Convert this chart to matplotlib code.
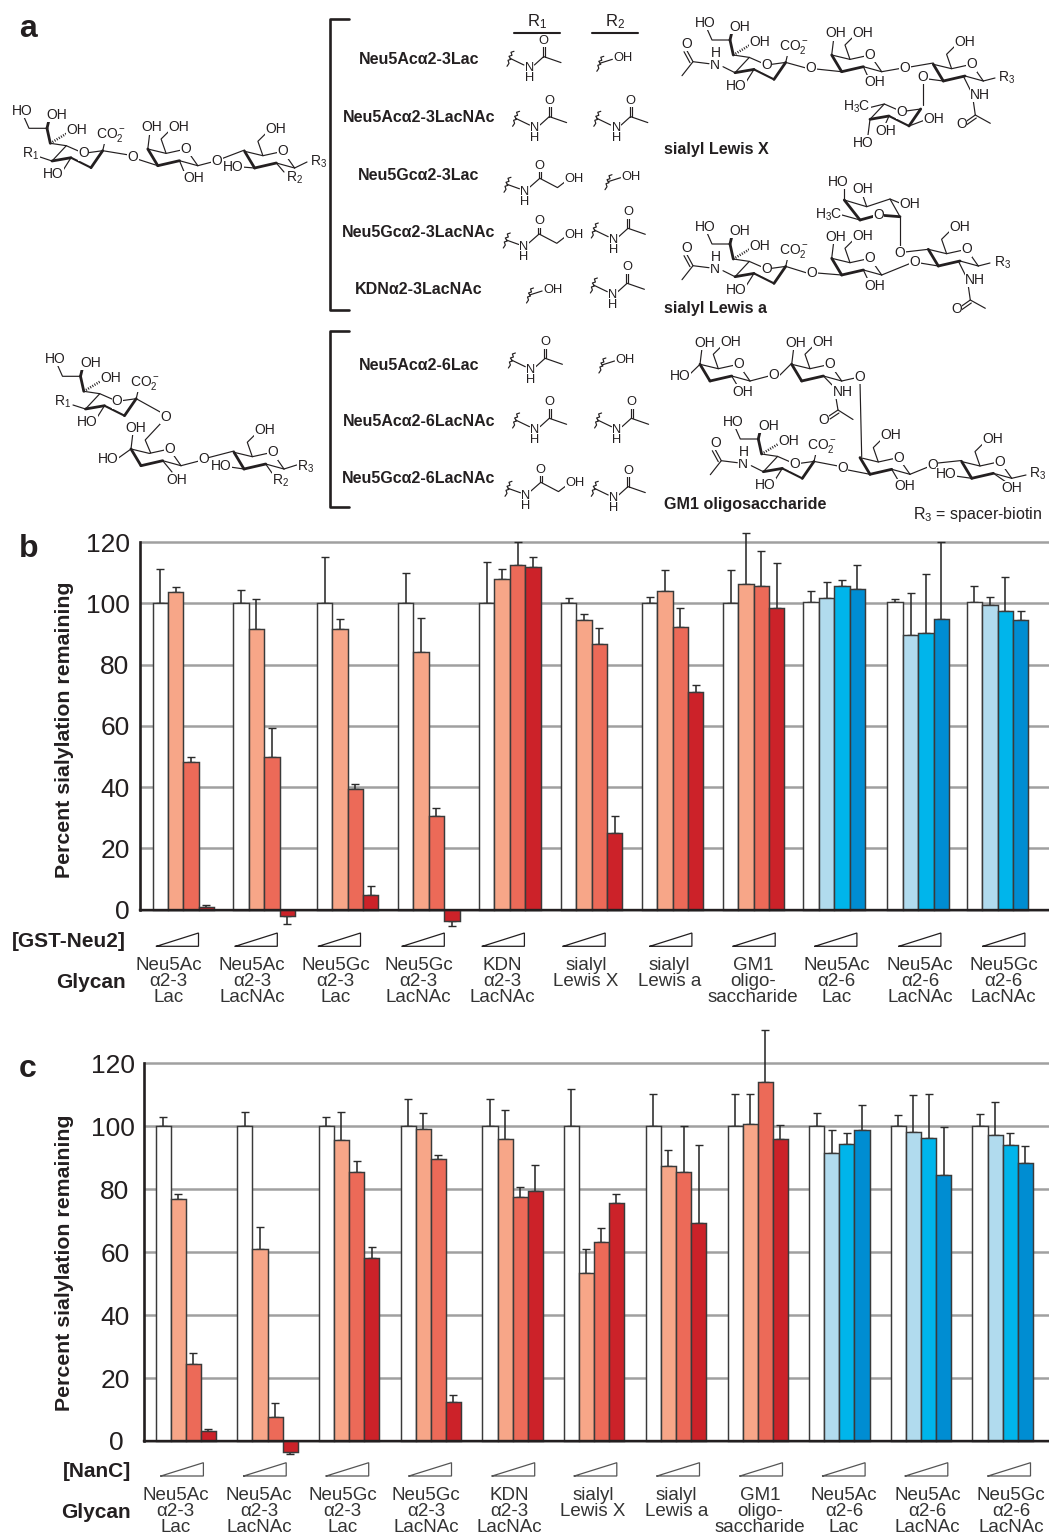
import matplotlib
matplotlib.use('Agg')
import matplotlib.pyplot as plt
from matplotlib.transforms import Affine2D

plt.rcParams['font.family'] = ['Liberation Sans', 'DejaVu Sans']
plt.rcParams['mathtext.fontset'] = 'custom'
plt.rcParams['mathtext.rm'] = 'Liberation Sans'
plt.rcParams['mathtext.it'] = 'Liberation Sans'
plt.rcParams['mathtext.bf'] = 'Liberation Sans:bold'
plt.rcParams['mathtext.default'] = 'regular'

# glycan labels, one line per row under the bars
glycans = [['Neu5Ac', 'α2-3', 'Lac'], ['Neu5Ac', 'α2-3', 'LacNAc'],
           ['Neu5Gc', 'α2-3', 'Lac'], ['Neu5Gc', 'α2-3', 'LacNAc'],
           ['KDN', 'α2-3', 'LacNAc'], ['sialyl', 'Lewis X'], ['sialyl', 'Lewis a'],
           ['GM1', 'oligo-', 'saccharide'], ['Neu5Ac', 'α2-6', 'Lac'],
           ['Neu5Ac', 'α2-6', 'LacNAc'], ['Neu5Gc', 'α2-6', 'LacNAc']]
yticks = [0, 20, 40, 60, 80, 100, 120]

# panel b, bar heights for the four enzyme doses
b_dose0 = [100, 100, 100, 100, 100, 100, 100, 100, 100.3, 100.3, 100.3]
b_dose1 = [103.7, 91.5, 91.5, 84.2, 107.8, 94.7, 103.9, 106.2, 101.8, 89.6, 99.3]
b_dose2 = [48.1, 49.9, 39.3, 30.5, 112.5, 86.8, 92.4, 105.8, 105.8, 90.2, 97.5]
b_dose3 = [0.8, -2.1, 4.9, -3.8, 111.7, 24.9, 71.2, 98.5, 104.8, 95.0, 94.5]
# panel b, where each whisker ends
b_end0 = [111.3, 104.4, 115.2, 109.8, 113.5, 101.7, 102.0, 111.0, 104.0, 101.3, 105.6]
b_end1 = [105.2, 101.4, 95.0, 95.1, 111.3, 96.6, 111.0, 123.0, 106.9, 103.3, 102.0]
b_end2 = [49.8, 59.3, 41.0, 33.1, 120.0, 91.9, 98.3, 117.2, 107.7, 109.7, 108.5]
b_end3 = [1.6, -4.6, 7.8, -5.4, 115.0, 30.7, 73.4, 113.0, 112.6, 120.0, 97.6]

# panel c
c_dose0 = [100, 100, 100, 100, 100, 100, 100, 100, 100, 100, 100]
c_dose1 = [76.8, 61.1, 95.6, 99.0, 96.0, 53.3, 87.5, 100.7, 91.5, 98.3, 97.2]
c_dose2 = [24.4, 7.7, 85.6, 89.6, 77.5, 63.3, 85.6, 114.2, 94.3, 96.2, 93.9]
c_dose3 = [3.3, -3.4, 58.0, 12.3, 79.3, 75.7, 69.2, 95.9, 98.7, 84.6, 88.2]
c_end0 = [103.0, 104.4, 102.9, 108.6, 108.8, 111.7, 110.3, 110.2, 104.3, 103.7, 103.9]
c_end1 = [78.6, 68.1, 104.4, 104.1, 105.1, 61.0, 92.3, 110.2, 98.7, 109.8, 107.8]
c_end2 = [27.8, 12.0, 89.0, 90.8, 80.6, 67.8, 100.2, 130.5, 97.8, 110.2, 98.0]
c_end3 = [3.9, -4.0, 61.7, 14.7, 87.7, 78.5, 93.9, 100.5, 106.8, 99.8, 93.6]

# layout in reference pixels
W, H = 1049, 1534
b_left = [152.5, 233.3, 316.8, 397.9, 479, 560.8, 641.8, 722.8, 803.4, 887.4, 966.7]
c_left = [155.5, 237.3, 318.8, 400.6, 482.4, 563.5, 645.8, 727.5, 809.1, 890.8, 972.4]
b_labx = [168.4, 251.9, 335.4, 418.5, 502, 585.8, 669.5, 752.8, 836.5, 920.1, 1003.8]
c_labx = [175.8, 259.3, 342.5, 426, 509.5, 592.9, 676.2, 759.9, 843.9, 927.6, 1010.9]
b_tri = [156.5, 235.3, 318.5, 402.3, 482.4, 563.2, 649.9, 733.2, 814.9, 898.9, 982.9]
c_tri = [160.9, 243.7, 326.2, 409, 492.2, 574.3, 657, 740, 822.6, 905.3, 988]

white = '#ffffff'
reds = ['#f7a688', '#ec6a58', '#cc2229']
blues = ['#b1dbee', '#00b5eb', '#008dd2']
ink = '#231f20'
grid = '#a0a0a0'

f = plt.figure(figsize=(W / 100, H / 100), dpi=100)

# overlay in pixel units for the chemistry and the labels
ov = f.add_axes([0, 0, 1, 1], zorder=5)
ov.set_xlim(0, W)
ov.set_ylim(H, 0)
ov.axis('off')
ov.patch.set_alpha(0)


def chain(*pts, lw=0.85, **kw):
    ov.plot([p[0] for p in pts], [p[1] for p in pts], color=ink, lw=lw,
            solid_capstyle='round', solid_joinstyle='round', zorder=2, **kw)


def atom(x, y, s, size=10):
    ov.text(x, y, s, ha='center', va='center', fontsize=size, color=ink, zorder=3,
            bbox=dict(fc='white', ec='none', pad=0.2))


def rel(x, y, pts):
    return [(x + p[0], y + p[1]) for p in pts]


def neu_ring(x, y):
    bl, tl, o, tr, br, bm = rel(x, y, [(0, 0), (14.3, -15.3), (31.7, -7.7), (50.7, -10.3), (39, 6.7), (19, -3.3)])
    chain(bl, tl, o, tr)
    chain(bl, bm, lw=2)
    chain(bm, br, lw=1.5)
    chain(br, tr, lw=2)
    atom(o[0], o[1], 'O')
    return bl, tl, tr, br, bm


def gal_ring(x, y):
    tl, bl, bm, r, o, m = rel(x, y, [(-10, -16.7), (0, 0), (21.7, -5), (40, 0), (28.3, -16.7), (8.3, -12.3)])
    chain(tl, m, o, r)
    chain(tl, bl, lw=2)
    chain(bl, bm, lw=2)
    chain(bm, r)
    atom(o[0], o[1], 'O')
    return tl, bl, bm, r, m


def sialic(x, y, nh=True):
    bl, tl, tr, br, bm = neu_ring(x, y)
    root = (x - 1.7, y - 17.7)
    top = (x - 5, y - 32.7)
    chain(root, tl)
    chain(root, top, lw=2)
    chain(top, (x - 23, y - 32.7), (x - 28, y - 44))
    chain(top, (x - 3, y - 41), lw=2)
    chain(root, (x + 15, y - 27.7), lw=1.8, linestyle=(0, (0.4, 0.6)))
    atom(x - 30, y - 50, 'HO')
    atom(x + 5, y - 46, 'OH')
    atom(x + 25, y - 31, 'OH')
    chain(tr, (x + 53, y - 20))
    atom(x + 59, y - 26, 'CO$_2^-$')
    chain(bm, (x + 10, y + 11))
    atom(x + 1.7, y + 13.3, 'HO')
    if nh:
        chain(bl, (x - 12, y - 6))
        atom(x - 20, y - 7.5, 'N')
        atom(x - 19, y - 20, 'H')
        chain((x - 26, y - 9), (x - 42, y - 11), (x - 53, y + 3))
        chain((x - 42, y - 11), (x - 48, y - 22))
        chain((x - 45, y - 10), (x - 51, y - 21))
        atom(x - 48, y - 29, 'O')
    return tr


def gal(x, y, top_oh=True):
    tl, bl, bm, r, m = gal_ring(x, y)
    if top_oh:
        chain(tl, (x - 8, y - 33))
        atom(x - 5.7, y - 38.3, 'OH')
    chain(m, (x + 3.3, y - 26.7), (x + 11.7, y - 35))
    atom(x + 21, y - 39, 'OH')
    return tl, bl, bm, r


def nhac(x, y):
    chain((x + 20, y - 5), (x + 27, y + 9))
    atom(x + 37, y + 14, 'NH')
    chain((x + 30, y + 20), (x + 32, y + 34), (x + 47, y + 42.3))
    chain((x + 32, y + 34), (x + 22, y + 41))
    chain((x + 33, y + 37), (x + 23, y + 44))
    atom(x + 18, y + 43, 'O')


def squiggle(x, y):
    chain((x + 4, y - 7), (x + 1, y - 6), (x + 2, y - 3), (x - 1, y - 2), (x + 1, y + 1),
          (x - 2, y + 2), (x - 1, y + 5), (x - 3, y + 8), lw=0.85)


def acetamide(x, y):
    squiggle(x, y)
    chain((x, y), (x + 13.9, y + 6.7))
    atom(x + 19.4, y + 10, 'N', 9.3)
    atom(x + 19.4, y + 20, 'H', 9.3)
    chain((x + 24.4, y + 6.7), (x + 33.7, y - 1.7), (x + 51, y + 4.3))
    chain((x + 33, y - 1.7), (x + 33, y - 12))
    chain((x + 35, y - 1.7), (x + 35, y - 12))
    atom(x + 33.7, y - 17.7, 'O', 9.3)


def glycolyl(x, y):
    squiggle(x, y)
    chain((x, y), (x + 12.5, y + 4.5))
    atom(x + 17.7, y + 7.3, 'N', 9.3)
    atom(x + 17.7, y + 17.3, 'H', 9.3)
    chain((x + 22, y + 3.5), (x + 32.8, y - 6), (x + 50.5, y + 3.3), (x + 60, y - 4))
    chain((x + 32, y - 6), (x + 32, y - 14))
    chain((x + 34, y - 6), (x + 34, y - 14))
    atom(x + 32.8, y - 18.7, 'O', 9.3)
    atom(x + 67.3, y - 5.3, 'OH', 9.3)


def hydroxyl(x, y):
    squiggle(x, y)
    chain((x, y), (x + 12.6, y - 4))
    atom(x + 23, y - 5, 'OH', 9.3)


# panel a, left templates
tr = sialic(52, 161, nh=False)
chain((52, 161), (40, 157))
atom(31, 154, 'R$_1$')
chain(tr, (129, 155))
atom(133, 157, 'O')
chain((137, 159), (157.8, 165.7))
tl, bl, bm, r = gal(157.8, 165.7)
chain(bm, (185, 174))
atom(194, 178, 'OH')
chain(r, (212, 162))
atom(217, 160.7, 'O')
chain((221, 159), (244.6, 150))
tl, bl, bm, r = gal(254.6, 168, top_oh=False)
chain(bl, (242, 167))
atom(233.6, 166.7, 'HO')
chain(bm, (284, 172))
atom(294.6, 177.7, 'R$_2$')
chain(r, (307, 162))
atom(318.6, 161.7, 'R$_3$')

tr = sialic(85.5, 409, nh=False)
chain((85.5, 409), (73, 405))
atom(63, 401.7, 'R$_1$')
chain(tr, (162, 413))
atom(165.4, 416.7, 'O')
chain((162, 422), (145.2, 440), (150.7, 453))
tl, bl, bm, r, m = gal_ring(141, 465.7)
chain(tl, (133, 432))
atom(135.5, 427.7, 'OH')
chain(tl, (117, 459))
atom(108.6, 459.3, 'HO')
chain(bm, (172, 472))
atom(176.8, 480, 'OH')
chain(r, (199, 461))
atom(203.3, 459.3, 'O')
chain((207, 458), (234, 451))
tl, bl, bm, r = gal(244, 469, top_oh=False)
chain(bl, (230, 467))
atom(221, 465.7, 'HO')
chain(bm, (272, 473))
atom(281, 480.7, 'R$_2$')
chain(r, (296.7, 465))
atom(306, 466.7, 'R$_3$')

# panel a, sialyl Lewis X
tr = sialic(735, 72.7)
chain(tr, (806, 68))
atom(811, 68.4, 'O')
chain((816, 69), (841.7, 71.7))
tl, bl, bm, r = gal(841.7, 71.7)
chain(bm, (869, 79))
atom(875, 82, 'OH')
chain(r, (900, 68.5))
atom(905, 68.3, 'O')
chain((910, 67), (933.3, 63))
tl, bl, bm, r = gal(943.3, 81, top_oh=False)
nhac(943.3, 81)
chain(r, (995, 78))
atom(1007, 78, 'R$_3$')
chain(bl, (928, 79))
atom(923, 77, 'O')
chain((923, 83), (923, 104.5))
bl, tl2, tr2, br, bm2 = neu_ring(870, 119.3)
chain(tl2, (868, 108))
atom(856.7, 106.7, 'H$_3$C')
chain(br, (925, 120))
atom(933.3, 119.3, 'OH')
chain(bm2, (885, 125))
atom(886, 130.7, 'OH')
chain(bl, (868, 135))
atom(863.3, 142.7, 'HO')

# panel a, sialyl Lewis a
tr = sialic(735, 276.7)
chain(tr, (807, 273))
atom(812, 272.7, 'O')
chain((817, 273), (841.7, 275))
tl, bl, bm, r = gal(841.7, 275)
chain(bm, (869, 282))
atom(875, 285.5, 'OH')
chain(r, (910, 263.5))
atom(915, 262.3, 'O')
chain((920, 263), (938.3, 266))
tl, bl, bm, r = gal(938.3, 266, top_oh=False)
nhac(938.3, 266)
chain(r, (990, 263))
atom(1003, 263, 'R$_3$')
chain(tl, (905, 252))
atom(900, 253.3, 'O')
chain((900, 247.5), (900, 216.7))
fa, fb, fc, fd, fo, fe = (844.3, 200), (866.7, 206.7), (890, 199), (900, 216.7), (878.3, 215), (860, 220)
chain(fa, fb, fc, fd)
chain(fd, fo, lw=2)
chain(fo, fe, lw=2)
chain(fe, fa, lw=2)
atom(878.3, 215, 'O')
chain(fa, (844.3, 188))
atom(838.3, 181.7, 'HO')
chain(fb, (863, 196))
atom(862.3, 189.3, 'OH')
chain(fc, (901, 203.5))
atom(910, 204.3, 'OH')
chain(fe, (842, 215))
atom(828.3, 215, 'H$_3$C')

# panel a, GM1
tl, bl, bm, r = gal(710, 381)
chain(tl, (688, 376))
atom(680, 376, 'HO')
chain(bm, (737, 385))
atom(742.7, 391.7, 'OH')
chain(r, (769, 376))
atom(774, 375, 'O')
chain((779, 376), (791.7, 363.3))
tl, bl, bm, r = gal(801.7, 381)
chain(r, (855, 378))
atom(860, 376.7, 'O')
chain(bm, (835, 388))
atom(842.7, 391.7, 'NH')
chain((836, 398), (838, 410), (853, 419.5))
chain((838, 410), (829, 416))
chain((839, 413), (830, 419))
atom(823.3, 420, 'O')
chain((860, 382), (861.7, 456.7))
tr = sialic(763.3, 471.7)
chain(tr, (838, 466))
atom(842.7, 468.3, 'O')
chain((848, 470), (870, 474.3))
tl, bl, bm, r = gal(870, 474.3, top_oh=False)
chain(bm, (898, 480))
atom(904.3, 486, 'OH')
chain(r, (928, 467))
atom(932.7, 465, 'O')
chain((938, 463), (961.7, 460.5))
tl, bl, bm, r = gal(971.7, 478.3, top_oh=False)
chain(bl, (955, 476))
atom(946.7, 474, 'HO')
chain(bm, (1006, 482))
atom(1011.7, 488, 'OH')
chain(r, (1026, 475))
atom(1038, 474, 'R$_3$')

# compound names and substituent columns
names = [('Neu5Acα2-3Lac', 60), ('Neu5Acα2-3LacNAc', 118), ('Neu5Gcα2-3Lac', 175),
         ('Neu5Gcα2-3LacNAc', 232.7), ('KDNα2-3LacNAc', 290), ('Neu5Acα2-6Lac', 365),
         ('Neu5Acα2-6LacNAc', 422), ('Neu5Gcα2-6LacNAc', 478.3)]
for name, yy in names:
    ov.text(419, yy, name, ha='center', va='center', fontsize=11.5, fontweight='bold', color=ink)
for yy0, yy1 in [(19.3, 310), (330.7, 507.3)]:
    chain((349, yy0), (330, yy0), (330, yy1), (349, yy1), lw=1.9)
atom(536.6, 21.7, 'R$_1$', 12)
atom(615, 21.7, 'R$_2$', 12)
chain((514.3, 33), (559.8, 33), lw=1.5)
chain((592, 33), (637.6, 33), lw=1.5)
for xx, yy in [(510, 58.3), (515.6, 118.3), (596.8, 118.3), (594.3, 230), (593.4, 285),
               (511.4, 360), (515.6, 420), (597.6, 420), (594.3, 488.3)]:
    acetamide(xx, yy)
for xx, yy in [(507, 184.3), (506.3, 240), (508, 488.3)]:
    glycolyl(xx, yy)
for xx, yy in [(599.8, 63.3), (608, 181.7), (529.5, 295), (601.9, 365)]:
    hydroxyl(xx, yy)
for s, yy in [('sialyl Lewis X', 149.3), ('sialyl Lewis a', 308), ('GM1 oligosaccharide', 504.3)]:
    ov.text(664, yy, s, ha='left', va='center', fontsize=11.6, fontweight='bold', color=ink)
ov.text(913, 515, 'R$_3$ = spacer-biotin', ha='left', va='center', fontsize=11.5, color=ink)

for s, yy in [('a', 37), ('b', 557), ('c', 1077)]:
    ov.text(19, yy, s, ha='left', va='baseline', fontsize=23, fontweight='bold', color=ink)


def panel(ys, axis_x, lefts, bw, doses, ends, shift):
    y120, y0 = ys
    per = (y0 - y120) / 120
    ylo, yhi = -8, 132
    top_px = y120 - (yhi - 120) * per
    bot_px = y0 - ylo * per
    ax = f.add_axes([axis_x / W, 1 - bot_px / H, (W - axis_x) / W, (bot_px - top_px) / H])
    ax.set_xlim(axis_x, W)
    ax.set_ylim(ylo, yhi)
    ax.patch.set_alpha(0)
    for i, (vals, tops) in enumerate(zip(doses, ends)):
        xs = [v + i * bw for v in lefts]
        if i == 0:
            cols = [white] * len(vals)
        else:
            cols = [reds[i - 1]] * 8 + [blues[i - 1]] * 3
        ax.bar(xs, vals, width=bw, align='edge', color=cols, edgecolor='#3a3a3a', linewidth=1.05, zorder=3)
        up = [max(t - v, 0) for t, v in zip(tops, vals)]
        down = [max(v - t, 0) for t, v in zip(tops, vals)]
        ax.errorbar([v + bw / 2 for v in xs], vals, yerr=[down, up], fmt='none', ecolor='#2b2b2b',
                    elinewidth=1.15, capsize=2.6, capthick=1.0, zorder=2, clip_on=False)
    ax.set_yticks(yticks)
    ax.set_yticklabels([str(v) for v in yticks], fontsize=19, color=ink)
    ax.set_xticks([])
    ax.tick_params(axis='y', length=0, pad=7.5)
    ax.yaxis.grid(True, color=grid, lw=1.8, zorder=0)
    ax.set_axisbelow(True)
    for side in ['top', 'right']:
        ax.spines[side].set_visible(False)
    ax.spines['left'].set_bounds(0, 120)
    ax.spines['left'].set_linewidth(1.9)
    ax.spines['left'].set_color(ink)
    ax.spines['bottom'].set_position(('data', 0))
    ax.spines['bottom'].set_linewidth(1.7)
    ax.spines['bottom'].set_color(ink)
    ax.spines['bottom'].set_zorder(4)
    for lab, dx in zip(ax.get_yticklabels(), shift):
        lab.set_transform(lab.get_transform() + Affine2D().translate(dx, 0))
    return ax


panel((542, 909.7), 140, b_left, 15.4, [b_dose0, b_dose1, b_dose2, b_dose3],
      [b_end0, b_end1, b_end2, b_end3], [0] * 7)
panel((1063.3, 1441), 144, c_left, 15.1, [c_dose0, c_dose1, c_dose2, c_dose3],
      [c_end0, c_end1, c_end2, c_end3], [-10, -4, -4, -4, -4, 1, 1])


def under(labx, tri, tri_w, tri_y, line_y, cond, cond_y, gly_r, gly_y, ylab_y, tri_col):
    for x0 in tri:
        ov.plot([x0, x0 + tri_w, x0 + tri_w, x0], [tri_y[1], tri_y[1], tri_y[0], tri_y[1]],
                color=tri_col, lw=0.9, solid_joinstyle='miter', zorder=2)
    for xx, lines in zip(labx, glycans):
        for s, yy in zip(lines, line_y):
            ov.text(xx, yy, s, ha='center', va='center', fontsize=13.5, color='#333333')
    ov.text(gly_r, cond_y, cond, ha='right', va='center', fontsize=15, fontweight='bold', color=ink)
    ov.text(gly_r, gly_y, 'Glycan', ha='right', va='center', fontsize=15, fontweight='bold', color=ink)
    ov.text(65, ylab_y, 'Percent sialylation remaining', rotation=90, ha='center', va='center',
            fontsize=15.3, fontweight='bold', color=ink)


under(b_labx, b_tri, 42, (933, 946.3), (966, 982, 997.7), '[GST-Neu2]', 941.5, 126, 982.5, 730, ink)
under(c_labx, c_tri, 42.5, (1462.7, 1476), (1495.3, 1511.7, 1527.2), '[NanC]', 1471.2, 131, 1512.2, 1262.5, '#555555')

f.savefig('out.png', dpi=100)
